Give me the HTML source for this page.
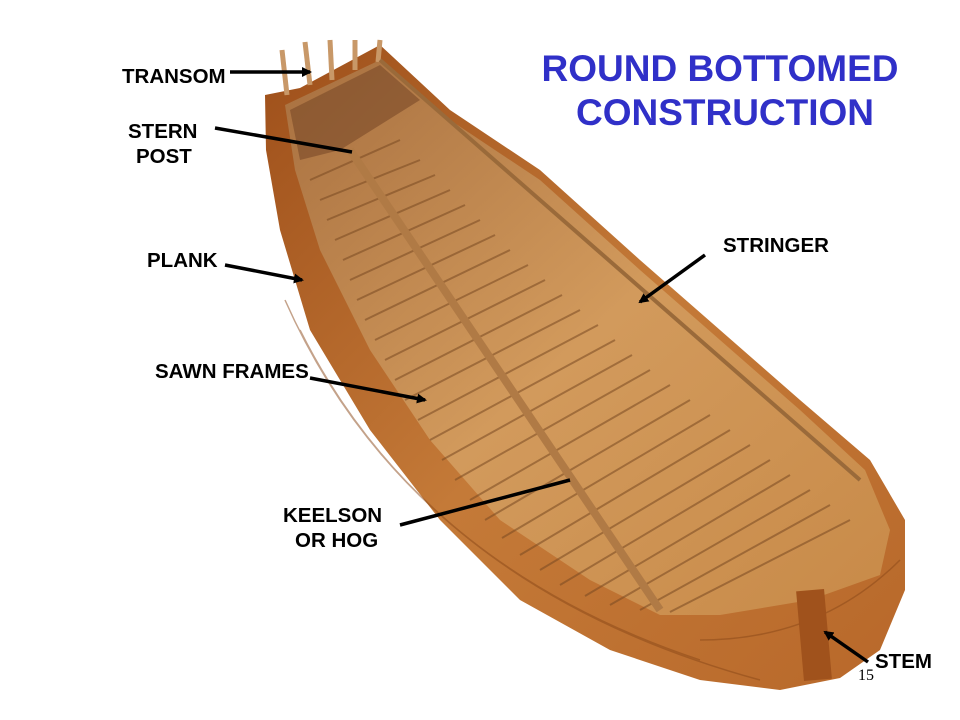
<!DOCTYPE html>
<html><head><meta charset="utf-8"><style>
html,body{margin:0;padding:0;background:#fff;}
svg{display:block;}
text{font-family:"Liberation Sans",Arial,sans-serif;font-weight:bold;}
</style></head><body>
<svg width="960" height="720" viewBox="0 0 960 720" xmlns="http://www.w3.org/2000/svg">
<defs>
<marker id="ah" markerWidth="10" markerHeight="10" refX="8" refY="5" orient="auto" markerUnits="userSpaceOnUse">
<path d="M0,0 L10,5 L0,10 z" fill="#000"/></marker>
<linearGradient id="hull" x1="0" y1="0" x2="1" y2="1">
<stop offset="0" stop-color="#9e4f1a"/><stop offset="0.5" stop-color="#c47a38"/><stop offset="1" stop-color="#b8682a"/></linearGradient>
<linearGradient id="inner" x1="0" y1="0" x2="1" y2="1">
<stop offset="0" stop-color="#a87040"/><stop offset="0.5" stop-color="#d29a5c"/><stop offset="1" stop-color="#c88a48"/></linearGradient>
</defs>
<path d="M265,95 L300,88 L380,45 L450,110 L540,170 L640,260 L720,330 L800,400 L870,460 L905,520 L905,590 L880,650 L840,678 L780,690 L700,680 L610,650 L520,600 L440,520 L370,430 L310,330 L280,230 L266,150 Z" fill="url(#hull)"/>
<path d="M285,105 L380,60 L450,120 L540,180 L640,270 L720,340 L800,410 L865,470 L890,530 L880,575 L810,600 L720,615 L660,615 L590,580 L500,520 L430,440 L370,350 L320,250 L295,170 Z" fill="url(#inner)"/>
<path d="M290,110 L380,65 L420,100 L340,150 L300,160 Z" fill="#7a4a28" opacity="0.6"/>
<g stroke="#c89868" stroke-width="5">
<line x1="282" y1="50" x2="287" y2="95"/><line x1="305" y1="42" x2="310" y2="85"/>
<line x1="330" y1="40" x2="332" y2="80"/><line x1="355" y1="40" x2="355" y2="70"/>
<line x1="380" y1="40" x2="378" y2="62"/></g>
<g stroke="#7a4a22" stroke-width="2" opacity="0.55">
<line x1="310" y1="180" x2="400" y2="140"/><line x1="320" y1="200" x2="420" y2="160"/><line x1="327" y1="220" x2="435" y2="175"/><line x1="335" y1="240" x2="450" y2="190"/>
<line x1="343" y1="260" x2="465" y2="205"/><line x1="350" y1="280" x2="480" y2="220"/><line x1="357" y1="300" x2="495" y2="235"/><line x1="365" y1="320" x2="510" y2="250"/>
<line x1="375" y1="340" x2="528" y2="265"/><line x1="385" y1="360" x2="545" y2="280"/><line x1="395" y1="380" x2="562" y2="295"/><line x1="405" y1="400" x2="580" y2="310"/>
<line x1="418" y1="420" x2="598" y2="325"/><line x1="430" y1="440" x2="615" y2="340"/><line x1="442" y1="460" x2="632" y2="355"/><line x1="455" y1="480" x2="650" y2="370"/>
<line x1="470" y1="500" x2="670" y2="385"/><line x1="485" y1="520" x2="690" y2="400"/><line x1="502" y1="538" x2="710" y2="415"/><line x1="520" y1="555" x2="730" y2="430"/>
<line x1="540" y1="570" x2="750" y2="445"/><line x1="560" y1="585" x2="770" y2="460"/><line x1="585" y1="596" x2="790" y2="475"/><line x1="610" y1="605" x2="810" y2="490"/>
<line x1="640" y1="610" x2="830" y2="505"/><line x1="670" y1="612" x2="850" y2="520"/>
</g>
<path d="M380,60 L860,480" stroke="#9a6a3a" stroke-width="4" fill="none"/>
<path d="M350,150 L660,610" stroke="#b07a45" stroke-width="8" fill="none"/>
<g stroke="#8a4818" stroke-width="1.5" opacity="0.5" fill="none">
<path d="M285,300 Q400,560 700,660"/><path d="M300,330 Q430,590 760,680"/>
<path d="M700,640 Q820,640 900,560"/>
</g>
<rect x="800" y="590" width="28" height="90" fill="#a0521c" transform="rotate(-5 814 635)"/>
<text x="720" y="81" font-size="37" fill="#3030c8" text-anchor="middle">ROUND BOTTOMED</text>
<text x="725" y="125" font-size="37" fill="#3030c8" text-anchor="middle">CONSTRUCTION</text>
<g font-size="20.5" fill="#000">
<text x="122" y="83">TRANSOM</text>
<text x="128" y="138">STERN</text><text x="136" y="163">POST</text>
<text x="147" y="267">PLANK</text>
<text x="723" y="252">STRINGER</text>
<text x="155" y="378">SAWN FRAMES</text>
<text x="283" y="522">KEELSON</text><text x="295" y="547">OR HOG</text>
<text x="875" y="668">STEM</text>
</g>
<text x="858" y="680" font-size="16" style="font-family:'Liberation Serif',serif;font-weight:normal" fill="#000">15</text>
<g stroke="#000" stroke-width="3.5" fill="none">
<line x1="230" y1="72" x2="310" y2="72" marker-end="url(#ah)"/>
<line x1="215" y1="128" x2="352" y2="152"/>
<line x1="225" y1="265" x2="302" y2="280" marker-end="url(#ah)"/>
<line x1="705" y1="255" x2="640" y2="302" marker-end="url(#ah)"/>
<line x1="310" y1="378" x2="425" y2="400" marker-end="url(#ah)"/>
<line x1="400" y1="525" x2="570" y2="480"/>
<line x1="868" y1="662" x2="825" y2="632" marker-end="url(#ah)"/>
</g>
</svg>
</body></html>
